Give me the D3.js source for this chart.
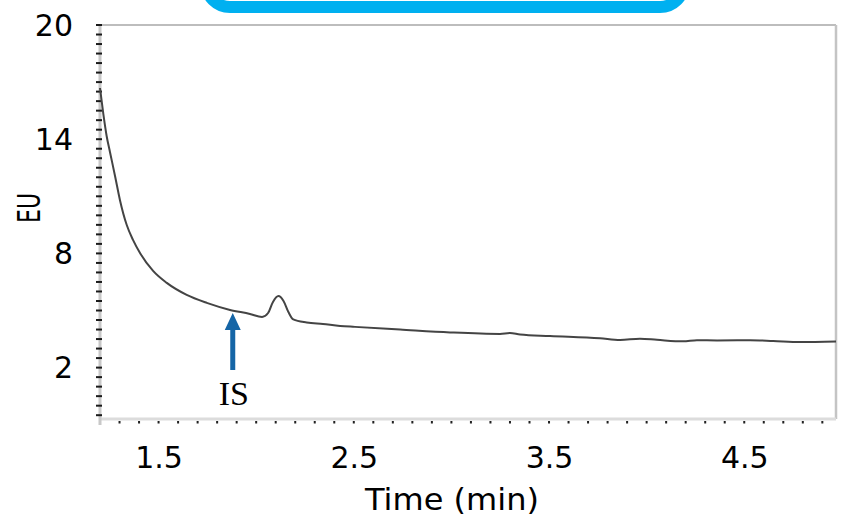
<!DOCTYPE html>
<html>
<head>
<meta charset="utf-8">
<script src="https://cdn.jsdelivr.net/npm/d3@7/dist/d3.min.js"></script>
<style>
  html, body { margin: 0; padding: 0; background: #fff; }
  svg { display: block; }
</style>
</head>
<body>
<svg id="chart" width="845" height="527"></svg>
<script>
// Fluorescence trace (EU) against retention time (min)
const timeMin = [
  1.200, 1.217, 1.234, 1.251, 1.277, 1.302, 1.337, 1.369, 1.405, 1.472,
  1.542, 1.644, 1.747, 1.866, 1.968, 2.030, 2.061, 2.086, 2.114, 2.140,
  2.165, 2.190, 2.259, 2.342, 2.430, 2.506, 2.737, 2.993, 3.249, 3.300,
  3.352, 3.505, 3.761, 3.864, 3.966, 4.053, 4.187, 4.258, 4.361, 4.530,
  4.648, 4.786, 4.970
];
const signalEU = [
  16.69, 15.33, 14.17, 13.33, 12.07, 10.81, 9.49, 8.71, 8.02, 7.08,
  6.45, 5.82, 5.40, 5.03, 4.82, 4.66, 4.87, 5.45, 5.76, 5.50,
  4.92, 4.53, 4.37, 4.29, 4.19, 4.14, 4.00, 3.85, 3.77, 3.82,
  3.74, 3.66, 3.54, 3.45, 3.52, 3.46, 3.38, 3.44, 3.43, 3.44,
  3.40, 3.34, 3.37
];

const xTickValues = [1.5, 2.5, 3.5, 4.5];
const yTickValues = [2, 8, 14, 20];
const xDomain = [1.2, 4.97];
const yDomain = [-0.7, 20];

// Internal standard marker: arrow from/to levels (EU) at its retention time
const isTime = 1.88;
const isArrowEU = [1.87, 4.87];
const isLabel = "IS";

const svg = d3.select("#chart");
const margin = { left: 100, right: 9, top: 25, bottom: 108 };
const W = 845, H = 527;

const x = d3.scaleLinear().domain(xDomain).range([margin.left, W - margin.right]);
const y = d3.scaleLinear().domain(yDomain).range([H - margin.bottom, margin.top]);

const x0 = x.range()[0], x1 = x.range()[1];
const yTop = y.range()[1], yBot = y.range()[0];
const sans = "'DejaVu Sans', Verdana, sans-serif";

// Framed heading box running off the top edge
svg.append("rect")
  .attr("x", 206).attr("y", -60)
  .attr("width", 478).attr("height", 67)
  .attr("rx", 24).attr("ry", 24)
  .attr("fill", "#fff")
  .attr("stroke", "#00b0f0")
  .attr("stroke-width", 12);

// Plot frame: top and right borders
svg.append("line").attr("x1", x0).attr("x2", x1).attr("y1", yTop).attr("y2", yTop)
  .attr("stroke", "#bdbdbd").attr("stroke-width", 2);
svg.append("line").attr("x1", x1).attr("x2", x1).attr("y1", yTop).attr("y2", yBot)
  .attr("stroke", "#c4c4c4").attr("stroke-width", 2.5);

// Bottom axis line with small minor marks every 0.1 min
svg.append("line").attr("x1", x0).attr("x2", x1).attr("y1", yBot).attr("y2", yBot)
  .attr("stroke", "#dcdcdc").attr("stroke-width", 3);
const xMinor = d3.range(Math.round(xDomain[0] * 10), Math.floor(xDomain[1] * 10) + 1).map(d => d / 10);
svg.append("g").selectAll("rect").data(xMinor).join("rect")
  .attr("x", d => x(d) - 1).attr("y", yBot + 2)
  .attr("width", 2).attr("height", 2.5)
  .attr("fill", "#222");

// Left axis line with minor ticks every 0.5 EU
svg.append("line").attr("x1", x0).attr("x2", x0).attr("y1", yTop).attr("y2", yBot + 6)
  .attr("stroke", "#c8c8c8").attr("stroke-width", 3);
const yMinor = d3.range(-1, 41).map(d => d / 2).filter(d => d >= yDomain[0] && d <= yDomain[1]);
svg.append("g").selectAll("line").data(yMinor).join("line")
  .attr("x1", x0 - 4).attr("x2", x0 + 2)
  .attr("y1", d => y(d)).attr("y2", d => y(d))
  .attr("stroke", "#1a1a1a").attr("stroke-width", 2);

// Axis labels via d3 axes (ticks hidden, labels only)
const xAxis = d3.axisBottom(x).tickValues(xTickValues).tickSize(0).tickPadding(0)
  .tickFormat(d3.format(".1f"));
const gx = svg.append("g").attr("transform", `translate(0,${yBot})`).call(xAxis);
gx.select(".domain").remove();
gx.selectAll("text")
  .attr("dy", null).attr("y", 49)
  .attr("font-family", sans)
  .attr("font-size", 30).attr("fill", "#000");

const yAxis = d3.axisLeft(y).tickValues(yTickValues).tickSize(0).tickPadding(0);
const gy = svg.append("g").attr("transform", `translate(${x0},0)`).call(yAxis);
gy.select(".domain").remove();
gy.selectAll("text")
  .attr("x", -27).attr("dy", "0.34em")
  .attr("font-family", sans)
  .attr("font-size", 30).attr("fill", "#000");

// Axis titles
svg.append("text")
  .attr("x", (x0 + x1) / 2 - 16).attr("y", 510)
  .attr("text-anchor", "middle")
  .attr("font-family", sans)
  .attr("font-size", 31).attr("fill", "#000")
  .attr("textLength", 174).attr("lengthAdjust", "spacingAndGlyphs")
  .text("Time (min)");

svg.append("text")
  .attr("transform", `translate(40,208) rotate(-90)`)
  .attr("text-anchor", "middle")
  .attr("font-family", sans)
  .attr("font-size", 32).attr("fill", "#000")
  .attr("textLength", 30).attr("lengthAdjust", "spacingAndGlyphs")
  .text("EU");

// Chromatogram trace
const pts = timeMin.map((t, i) => [t, signalEU[i]]);
const line = d3.line().x(d => x(d[0])).y(d => y(d[1])).curve(d3.curveMonotoneX);
svg.append("path")
  .datum(pts)
  .attr("d", line)
  .attr("fill", "none")
  .attr("stroke", "#444")
  .attr("stroke-width", 2)
  .attr("stroke-linejoin", "round");

// IS arrow and label
const ax = x(isTime);
const yTip = y(isArrowEU[1]);
const yTail = y(isArrowEU[0]);
const headH = 17, headW = 8, shaftW = 2.5;
svg.append("path")
  .attr("d", `M${ax - shaftW},${yTail} L${ax - shaftW},${yTip + headH} L${ax - headW},${yTip + headH}
              L${ax},${yTip} L${ax + headW},${yTip + headH} L${ax + shaftW},${yTip + headH} L${ax + shaftW},${yTail} Z`)
  .attr("fill", "#1565a6");

svg.append("text")
  .attr("x", ax + 1).attr("y", yTail + 35)
  .attr("text-anchor", "middle")
  .attr("font-family", "'Liberation Serif', 'Times New Roman', serif")
  .attr("font-size", 34).attr("fill", "#000")
  .text(isLabel);
</script>
</body>
</html>
